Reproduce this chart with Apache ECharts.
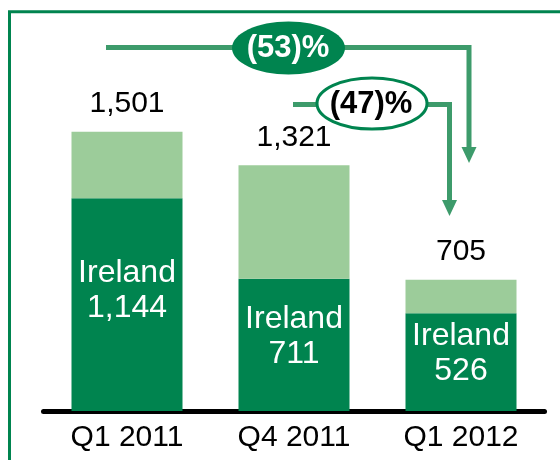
<!DOCTYPE html>
<html>
<head>
<meta charset="utf-8">
<script src="https://cdn.jsdelivr.net/npm/echarts@6/dist/echarts.min.js"></script>
<style>
html,body{margin:0;padding:0;background:#fff;}
#chart{width:560px;height:460px;}
</style>
</head>
<body>
<div id="chart"></div>
<script>
// ---- data ----
const categories = ['Q1 2011', 'Q4 2011', 'Q1 2012'];
const totals = [1501, 1321, 705];
const ireland = [1144, 711, 526];
const other = [357, 610, 179];
const changeLabels = ['(53)%', '(47)%'];

// ---- style ----
const DARK = '#00844f';
const LIGHT = '#9ccc9a';
const ARROW = '#3d9b6b';
const FONT = '"Liberation Sans", Arial, sans-serif';
const irelandLabelShift = [-14, -8, -8];

function fmt(n) { return String(n).replace(/\B(?=(\d{3})+(?!\d))/g, ','); }

const chart = echarts.init(document.getElementById('chart'), null, { renderer: 'canvas' });

const option = {
  animation: false,
  backgroundColor: '#ffffff',
  grid: { left: 43.5, top: 39, width: 501, height: 372, containLabel: false },
  xAxis: {
    type: 'category',
    data: categories,
    offset: 2,
    axisLine: { show: true, lineStyle: { color: '#000', width: 5 } },
    axisTick: { show: false },
    axisLabel: { color: '#000', fontSize: 30, fontFamily: FONT, margin: 10 }
  },
  yAxis: {
    type: 'value', min: 0, max: 2000,
    show: false, splitLine: { show: false }
  },
  series: [
    {
      name: 'Ireland', type: 'bar', stack: 'total', barWidth: 111,
      itemStyle: { color: DARK },
      data: ireland.map((v, i) => ({
        value: v,
        label: { offset: [0, irelandLabelShift[i]] }
      })),
      label: {
        show: true, position: 'inside', color: '#fff',
        fontSize: 32, lineHeight: 35, fontFamily: FONT,
        formatter: p => 'Ireland\n' + fmt(p.value)
      }
    },
    {
      name: 'Other', type: 'bar', stack: 'total', barWidth: 111,
      itemStyle: { color: LIGHT },
      data: other,
      label: {
        show: true, position: 'top', distance: 13, color: '#000',
        fontSize: 30, fontFamily: FONT,
        formatter: p => fmt(totals[p.dataIndex])
      }
    }
  ],
  graphic: [
    // frame
    { type: 'rect', shape: { x: 9.5, y: 11.7, width: 600, height: 500 },
      style: { fill: 'none', stroke: DARK, lineWidth: 3 }, z: 1 },
    // arrow 1
    { type: 'polyline', shape: { points: [[106, 47.5], [469, 47.5], [469, 149]] },
      style: { fill: 'none', stroke: ARROW, lineWidth: 5 }, z: 5 },
    { type: 'polygon', shape: { points: [[461.5, 147], [476.5, 147], [469, 163]] },
      style: { fill: ARROW }, z: 5 },
    // arrow 2
    { type: 'polyline', shape: { points: [[293, 104.5], [449.5, 104.5], [449.5, 202]] },
      style: { fill: 'none', stroke: ARROW, lineWidth: 5 }, z: 5 },
    { type: 'polygon', shape: { points: [[442, 200], [457, 200], [449.5, 216]] },
      style: { fill: ARROW }, z: 5 },
    // ellipse 1
    { type: 'ellipse', shape: { cx: 288.5, cy: 48, rx: 56.5, ry: 26.5 },
      style: { fill: DARK }, z: 10 },
    { type: 'text', x: 288, y: 48, z: 11,
      style: { text: changeLabels[0], fill: '#fff', font: 'bold 31px ' + FONT,
               align: 'center', verticalAlign: 'middle' } },
    // ellipse 2
    { type: 'ellipse', shape: { cx: 372, cy: 103.5, rx: 55, ry: 25.5 },
      style: { fill: '#fff', stroke: DARK, lineWidth: 3 }, z: 10 },
    { type: 'text', x: 371, y: 104, z: 11,
      style: { text: changeLabels[1], fill: '#000', font: 'bold 31px ' + FONT,
               align: 'center', verticalAlign: 'middle' } }
  ]
};

chart.setOption(option);
</script>
</body>
</html>
